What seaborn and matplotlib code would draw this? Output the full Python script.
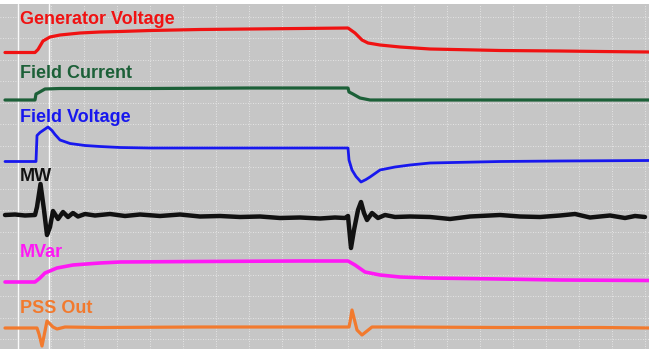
import numpy as np
import pandas as pd
import seaborn as sns
import matplotlib.pyplot as plt

# --- Data: scope traces, time in s, deflection in screen units (up = +) ---
gen_v_t = [0.05, 0.35, 0.38, 0.43, 0.50, 0.60, 0.80, 1.00, 1.20, 1.50, 2.00, 2.50, 3.00, 3.48,
           3.55, 3.62, 3.68, 3.80, 4.00, 4.30, 5.00, 5.60, 6.00, 6.49]
gen_v = [0, 0, 3, 11.5, 15.5, 17.5, 19.5, 20.5, 21, 22, 23, 23.5, 24, 24.5,
         19.5, 12.5, 9.5, 7.5, 5.5, 3.5, 2, 1.5, 1, 0.5]

field_i_t = [0.05, 0.35, 0.36, 0.38, 0.45, 0.60, 1.50, 2.50, 3.48, 3.49, 3.52, 3.60, 3.70, 5.00, 6.49]
field_i = [0, 0, 6, 7, 11, 11.5, 11.5, 12, 12, 8, 6.5, 2, 0, 0, 0]

field_v_t = [0.05, 0.36, 0.37, 0.40, 0.48, 0.52, 0.55, 0.60, 0.70, 0.85, 1.00, 1.20, 1.50, 2.00,
             3.00, 3.48, 3.49, 3.52, 3.56, 3.61, 3.66, 3.70, 3.80, 3.95, 4.10, 4.30, 5.00,
             5.60, 6.49]
field_v = [0, 0, 26, 29, 34.5, 31, 27, 21.5, 18, 16, 15, 14, 13.5, 13.5,
           13.5, 13.5, 1.5, -8.5, -15, -20.5, -18, -15.5, -8.5, -5.5, -3.5, -1.5, 0,
           0.5, 1]

mw_t = [0.05, 0.15, 0.25, 0.35, 0.37, 0.405, 0.44, 0.47, 0.50, 0.53, 0.58, 0.63, 0.68, 0.73,
        0.78, 0.85, 0.95, 1.10, 1.25, 1.40, 1.60, 1.80, 2.00, 2.20, 2.40, 2.60, 2.80, 3.00,
        3.20, 3.35, 3.45, 3.48, 3.51, 3.54, 3.58, 3.61, 3.64, 3.67, 3.72, 3.78, 3.85, 3.95,
        4.10, 4.30, 4.50, 4.70, 5.00, 5.20, 5.40, 5.60, 5.75, 5.90, 6.10, 6.25, 6.35, 6.45]
mw = [0, 0.5, -0.5, 0, 8, 31, 5, -20, -12, 4, -4, 3, -2, 2,
      -1.5, 1, -0.5, 1, -1, 0.5, -1, 0.5, -1.5, -1, -2, -1.5, -3, -2.5,
      -3.5, -2.5, -3, -1, -33, -15, 5, 13, 2, -5, 2, -3, 0, -2,
      -1.5, -2, -4, -1.5, 0, -1.5, -2, -0.5, 1, -2.5, -0.5, -3, -1, -2]

mvar_t = [0.05, 0.35, 0.40, 0.45, 0.57, 0.73, 1.00, 1.20, 2.00, 3.00, 3.48,
          3.55, 3.65, 3.80, 4.00, 4.30, 5.00, 5.60, 6.49]
mvar = [0, 0, 4, 9, 14, 17, 19, 20, 20.5, 21, 21,
        17, 10, 7, 5, 4, 3, 2, 1.5]

pss_t = [0.05, 0.37, 0.39, 0.42, 0.44, 0.47, 0.50, 0.53, 0.57, 0.65, 1.00, 2.00, 3.00, 3.49,
         3.50, 3.52, 3.54, 3.57, 3.62, 3.67, 3.72, 4.00, 5.00, 6.00, 6.49]
pss = [0, 0, -6, -18, -8, 7, 4, 1, -1, 1, 0.5, 1, 1, 1,
       6, 18, 10, -2, -7, -3, 1, 1, 0.5, 0.5, 0]

names = ['Generator Voltage', 'Field Current', 'Field Voltage', 'MW', 'MVar', 'PSS Out']
colors = ['#f01212', '#1c6038', '#1818ee', '#111111', '#ff18f5', '#f27a2e']

# channel screen offsets and label baselines (screen units)
offsets = [296.5, 249, 187.5, 134, 67, 21]
label_y = [325, 271, 227, 168, 92, 36]
widths = [2.3, 2.3, 2.0, 3.2, 2.6, 2.3]

traces = [(gen_v_t, gen_v), (field_i_t, field_i), (field_v_t, field_v),
          (mw_t, mw), (mvar_t, mvar), (pss_t, pss)]

frames = []
for name, (t, v), off in zip(names, traces, offsets):
    frames.append(pd.DataFrame({'time': t, 'level': np.array(v) + off, 'channel': name}))
df = pd.concat(frames, ignore_index=True)

# --- Plot ---
sns.set_theme(style='dark')
plt.rcParams['font.family'] = ['Liberation Sans', 'DejaVu Sans']

fig = plt.figure(figsize=(6.49, 3.49), dpi=100)
fig.patch.set_facecolor('white')
ax = fig.add_axes([0, 0, 1, 345 / 349])
ax.set_facecolor('#c6c6c6')

# scope graticule
for xg in np.arange(0.18, 6.49, 0.33):
    ax.axvline(xg, color='white', lw=0.6, ls=(0, (1, 2)), alpha=0.7, zorder=0)
for yg in np.arange(10, 345, 21.5):
    ax.axhline(yg, color='white', lw=0.6, ls=(0, (1, 2)), alpha=0.7, zorder=0)
ax.axvline(0.18, color='white', lw=1.0, alpha=0.9, zorder=0)
ax.axvline(0.49, color='white', lw=1.0, alpha=0.9, zorder=0)

for name, c, lw in zip(names, colors, widths):
    sns.lineplot(data=df[df['channel'] == name], x='time', y='level', color=c,
                 lw=lw, estimator=None, sort=False, ax=ax, legend=False)

for name, c, ly in zip(names, colors, label_y):
    ax.text(0.20, ly, name, color=c, fontsize=13, fontweight='bold', va='baseline', ha='left')

ax.set_xlim(0, 6.49)
ax.set_ylim(0, 345)
ax.set_xticks([])
ax.set_yticks([])
ax.set_xlabel('')
ax.set_ylabel('')
for s in ax.spines.values():
    s.set_visible(False)

fig.savefig('out.png', dpi=100, facecolor=fig.get_facecolor())
